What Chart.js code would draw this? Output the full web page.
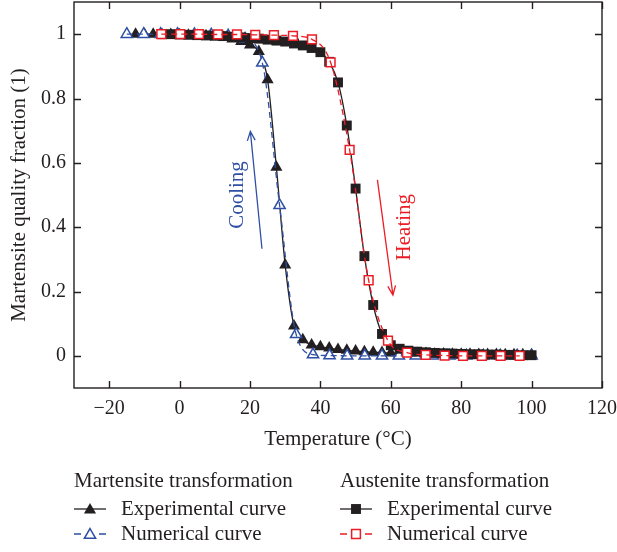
<!DOCTYPE html>
<html>
<head>
<meta charset="utf-8">
<script src="https://cdn.jsdelivr.net/npm/chart.js@4.4.1/dist/chart.umd.min.js"></script>
<style>
  body { margin: 0; background: #fff; }
  #wrap { width: 617px; height: 552px; }
</style>
</head>
<body>
<div id="wrap"><canvas id="sma" width="617" height="552"></canvas></div>
<script>
const xTicks = [-20, 0, 20, 40, 60, 80, 100, 120];
const yTicks = [0, 0.2, 0.4, 0.6, 0.8, 1];

// martensite transformation (cooling), experimental
const mExpT = [-12.5, -10, -7.5, -5, -2.5, 0, 2.5, 5, 7.5, 10, 12.5, 15, 17.5, 20, 22.5, 25, 27.5, 30,
  32.5, 35, 37.5, 40, 42.5, 45, 47.5, 50, 52.5, 55, 57.5, 60, 62.5, 65, 67.5, 70, 72.5, 75, 77.5, 80,
  82.5, 85, 87.5, 90, 92.5, 95, 97.5, 100];
const mExpF = [1, 1, 1, 0.999, 0.999, 0.998, 0.997, 0.996, 0.995, 0.993, 0.99, 0.985, 0.977, 0.966, 0.946, 0.858, 0.586, 0.282,
  0.093, 0.05, 0.034, 0.028, 0.024, 0.02, 0.017, 0.015, 0.013, 0.011, 0.01, 0.009, 0.008, 0.008, 0.007, 0.007, 0.006, 0.006, 0.005, 0.005,
  0.005, 0.004, 0.004, 0.004, 0.003, 0.003, 0.003, 0.003];

// martensite transformation, numerical
const mNumT = [-15, -10.2, -5.4, -0.6, 4.2, 9, 13.8, 18.6, 23.5, 28.4, 33.1, 37.9, 42.6, 47.6, 52.6, 57.5,
  62.3, 67.1, 71.9, 76.7, 81.5, 86.3, 91.1, 95.9, 100];
const mNumF = [1, 1, 1, 1, 0.999, 0.998, 0.995, 0.985, 0.911, 0.468, 0.067, 0.004, 0.001, 0, 0, 0,
  0, 0, 0, 0, 0, 0, 0, 0, 0];

// austenite transformation (heating), experimental
const aExpT = [-5, -2.5, 0, 2.5, 5, 7.5, 10, 12.5, 15, 17.5, 20, 22.5, 25, 27.5, 30, 32.5, 35, 37.5, 40,
  42.5, 45, 47.5, 50, 52.5, 55, 57.5, 60, 62.5, 65, 67.5, 70, 72.5, 75, 77.5, 80, 82.5, 85, 87.5, 90,
  92.5, 95, 97.5, 100];
const aExpF = [1, 1, 0.999, 0.998, 0.997, 0.996, 0.995, 0.994, 0.992, 0.99, 0.988, 0.986, 0.983, 0.98, 0.977, 0.971, 0.965, 0.957, 0.944,
  0.914, 0.85, 0.716, 0.52, 0.31, 0.158, 0.068, 0.033, 0.022, 0.016, 0.013, 0.011, 0.009, 0.008, 0.007, 0.006, 0.005, 0.005, 0.004, 0.004,
  0.003, 0.003, 0.002, 0.002];

// austenite transformation, numerical
const aNumT = [-5.2, 0.2, 5.5, 10.9, 16.3, 21.5, 26.8, 32.2, 37.6, 42.9, 48.3, 53.7, 59.2, 64.6, 69.9,
  75.3, 80.5, 85.9, 91.2, 96.6];
const aNumF = [1, 1, 1, 0.999, 0.999, 0.998, 0.997, 0.995, 0.984, 0.912, 0.64, 0.235, 0.047, 0.01, 0.003,
  0.001, 0, 0, 0, 0];

const ink = '#231f20';
const blue = '#2e4fa3';
const red = '#ec1c24';
const serif = 'Liberation Serif, Times New Roman, serif';

const pts = (xs, ys) => xs.map((x, i) => ({ x: x, y: ys[i] }));

// same geometry as Chart.js point styles, used for the legend keys
function mark(ctx, style, x, y, r, fill, stroke, lw) {
  ctx.beginPath();
  if (style === 'triangle') {
    let a = 0;
    ctx.moveTo(x + Math.sin(a) * r, y - Math.cos(a) * r);
    a += 2 * Math.PI / 3;
    ctx.lineTo(x + Math.sin(a) * r, y - Math.cos(a) * r);
    a += 2 * Math.PI / 3;
    ctx.lineTo(x + Math.sin(a) * r, y - Math.cos(a) * r);
    ctx.closePath();
  } else {
    const s = r * Math.SQRT1_2;
    ctx.rect(x - s, y - s, 2 * s, 2 * s);
  }
  ctx.fillStyle = fill;
  ctx.fill();
  if (stroke) {
    ctx.strokeStyle = stroke;
    ctx.lineWidth = lw;
    ctx.stroke();
  }
}

function arrow(ctx, x0, y0, x1, y1, color) {
  const ang = Math.atan2(y1 - y0, x1 - x0);
  const len = 10, spread = 0.4;
  ctx.strokeStyle = color;
  ctx.lineWidth = 1.3;
  ctx.beginPath();
  ctx.moveTo(x0, y0);
  ctx.lineTo(x1, y1);
  ctx.moveTo(x1 - len * Math.cos(ang - spread), y1 - len * Math.sin(ang - spread));
  ctx.lineTo(x1, y1);
  ctx.lineTo(x1 - len * Math.cos(ang + spread), y1 - len * Math.sin(ang + spread));
  ctx.stroke();
}

function vtext(ctx, str, x, y, color) {
  ctx.save();
  ctx.translate(x, y);
  ctx.rotate(-Math.PI / 2);
  ctx.fillStyle = color;
  ctx.font = '21px ' + serif;
  ctx.textAlign = 'center';
  ctx.textBaseline = 'middle';
  ctx.fillText(str, 0, 0);
  ctx.restore();
}

const frame = {
  id: 'frame',
  afterDraw(chart) {
    const { ctx, chartArea: a, scales: { x, y } } = chart;
    ctx.save();

    // box and inward ticks on all four sides
    ctx.strokeStyle = ink;
    ctx.lineWidth = 1.4;
    ctx.strokeRect(a.left, a.top, a.right - a.left, a.bottom - a.top);
    ctx.beginPath();
    x.ticks.forEach(t => {
      const px = Math.round(x.getPixelForValue(t.value)) + 0.5;
      ctx.moveTo(px, a.bottom); ctx.lineTo(px, a.bottom - 7);
      ctx.moveTo(px, a.top); ctx.lineTo(px, a.top + 7);
    });
    y.ticks.forEach(t => {
      const py = Math.round(y.getPixelForValue(t.value)) + 0.5;
      ctx.moveTo(a.left, py); ctx.lineTo(a.left + 7, py);
      ctx.moveTo(a.right, py); ctx.lineTo(a.right - 7, py);
    });
    ctx.stroke();

    // cooling / heating notes
    const X = v => x.getPixelForValue(v), Y = v => y.getPixelForValue(v);
    arrow(ctx, X(23.4), Y(0.333), X(20.1), Y(0.698), blue);
    vtext(ctx, 'Cooling', X(16.5), Y(0.50), blue);
    arrow(ctx, X(56.2), Y(0.547), X(60.6), Y(0.189), red);
    vtext(ctx, 'Heating', X(63.9), Y(0.40), red);

    // legend
    ctx.font = '21px ' + serif;
    ctx.fillStyle = ink;
    ctx.textBaseline = 'middle';
    ctx.textAlign = 'left';
    const cols = [
      { x: 74, head: 'Martensite transformation', style: 'triangle', numColor: blue, r: 7 },
      { x: 340, head: 'Austenite transformation', style: 'rect', numColor: red, r: 7 }
    ];
    const rowHead = 481, rowExp = 509, rowNum = 534;
    cols.forEach(c => {
      ctx.fillStyle = ink;
      ctx.fillText(c.head, c.x, rowHead);
      ctx.fillText('Experimental curve', c.x + 47, rowExp);
      ctx.fillText('Numerical curve', c.x + 47, rowNum);
      const cx = c.x + 16;
      ctx.strokeStyle = ink;
      ctx.lineWidth = 1.3;
      ctx.beginPath();
      ctx.moveTo(c.x, rowExp); ctx.lineTo(c.x + 32, rowExp);
      ctx.stroke();
      mark(ctx, c.style, cx, rowExp + (c.style === 'triangle' ? 1 : 0), c.r, ink);
      ctx.strokeStyle = c.numColor;
      ctx.beginPath();
      ctx.moveTo(c.x, rowNum); ctx.lineTo(c.x + 7, rowNum);
      ctx.moveTo(c.x + 25, rowNum); ctx.lineTo(c.x + 32, rowNum);
      ctx.stroke();
      mark(ctx, c.style, cx, rowNum + (c.style === 'triangle' ? 1 : 0), c.style === 'triangle' ? 6.5 : 6.2, '#fff', c.numColor, 1.5);
    });

    ctx.restore();
  }
};

const tickFont = { family: serif, size: 20 };
const titleFont = { family: serif, size: 21 };

new Chart(document.getElementById('sma'), {
  type: 'line',
  data: {
    datasets: [
      {
        data: pts(aNumT, aNumF), borderColor: red, borderWidth: 1.3, borderDash: [6, 4],
        pointRadius: 0, cubicInterpolationMode: 'monotone', fill: false
      },
      {
        data: pts(aNumT, aNumF), showLine: false, pointStyle: 'rect', pointRadius: 6.2,
        pointBorderWidth: 1.5, pointBorderColor: red, pointBackgroundColor: '#fff'
      },
      {
        data: pts(aExpT, aExpF), borderColor: ink, borderWidth: 1.3, cubicInterpolationMode: 'monotone',
        pointStyle: 'rect', pointRadius: 7, pointBorderWidth: 0, pointBackgroundColor: ink, fill: false
      },
      {
        data: pts(mNumT, mNumF), borderColor: blue, borderWidth: 1.3, borderDash: [6, 4],
        pointRadius: 0, cubicInterpolationMode: 'monotone', fill: false
      },
      {
        data: pts(mNumT, mNumF), showLine: false, pointStyle: 'triangle', pointRadius: 6.5,
        pointBorderWidth: 1.5, pointBorderColor: blue, pointBackgroundColor: '#fff'
      },
      {
        data: pts(mExpT, mExpF), borderColor: ink, borderWidth: 1.3, cubicInterpolationMode: 'monotone',
        pointStyle: 'triangle', pointRadius: 7, pointBorderWidth: 0, pointBackgroundColor: ink, fill: false
      }
    ]
  },
  options: {
    responsive: false,
    animation: false,
    events: [],
    layout: { autoPadding: false, padding: { top: 2, right: 15, bottom: 88, left: 0 } },
    plugins: { legend: { display: false }, tooltip: { enabled: false } },
    scales: {
      x: {
        type: 'linear', min: -30, max: 120,
        afterBuildTicks: s => { s.ticks = xTicks.map(v => ({ value: v })); },
        afterFit: s => { s.height = 76; s.paddingLeft = 0; s.paddingRight = 0; },
        grid: { display: false, drawTicks: false }, border: { display: false },
        ticks: {
          color: ink, font: tickFont, padding: 9, maxRotation: 0, autoSkip: false,
          callback: v => (v < 0 ? '\u2212' + Math.abs(v) : String(v))
        },
        title: {
          display: true, text: 'Temperature (°C)', color: ink, font: titleFont,
          padding: { top: 0, bottom: 12 }
        }
      },
      y: {
        type: 'linear', min: -0.1, max: 1.1,
        afterBuildTicks: s => { s.ticks = yTicks.map(v => ({ value: v })); },
        afterFit: s => { s.width = 74; s.paddingTop = 0; s.paddingBottom = 0; },
        grid: { display: false, drawTicks: false }, border: { display: false },
        ticks: { color: ink, font: tickFont, padding: 8, callback: v => String(v) },
        title: {
          display: true, text: 'Martensite quality fraction (1)', color: ink, font: titleFont,
          padding: { top: 7, bottom: 0 }
        }
      }
    }
  },
  plugins: [frame]
});
</script>
</body>
</html>
